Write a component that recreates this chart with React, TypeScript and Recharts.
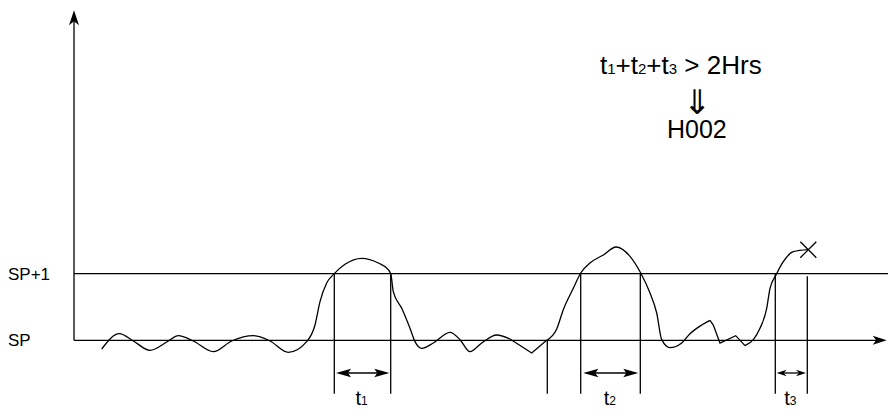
import React from 'react';
import { LineChart, Line, XAxis, YAxis, ReferenceLine, ReferenceDot } from 'recharts';

const FONT = '"Liberation Sans", Arial, Helvetica, sans-serif';

// ---- data (t = time units, v = deviation above set point, SP = 0, SP+1 = 1) ----
const X_DOMAIN: [number, number] = [0, 814];
const Y_DOMAIN: [number, number] = [-1, 5];
const Y_TICKS = [0, 1];
const Y_TICK_LABELS = ['SP', 'SP+1'];

const traceA = [
  { t: 27.7, v: -0.13 }, { t: 45.3, v: 0.1 }, { t: 59.3, v: -0.01 }, { t: 76, v: -0.15 },
  { t: 94.3, v: -0.01 }, { t: 104.3, v: 0.07 }, { t: 119.3, v: -0.01 }, { t: 139.3, v: -0.17 },
  { t: 157.7, v: -0.01 }, { t: 179.3, v: 0.07 }, { t: 196, v: -0.01 }, { t: 214.3, v: -0.18 },
  { t: 232.7, v: -0.02 }, { t: 241, v: 0.23 }, { t: 246, v: 0.58 }, { t: 252.7, v: 0.86 },
  { t: 260.3, v: 1.0 }, { t: 271, v: 1.14 }, { t: 287.7, v: 1.23 }, { t: 304.3, v: 1.16 },
  { t: 314.3, v: 1.06 }, { t: 317, v: 0.98 }, { t: 319.3, v: 0.73 }, { t: 327.7, v: 0.48 },
  { t: 336, v: 0.18 }, { t: 341, v: -0.02 }, { t: 347.7, v: -0.12 }, { t: 359.3, v: -0.04 },
  { t: 376, v: 0.12 }, { t: 386, v: 0.01 }, { t: 396, v: -0.17 }, { t: 407.7, v: -0.04 },
  { t: 422.7, v: 0.08 }, { t: 436, v: 0.02 },
];
const kinkA = [ { t: 436, v: 0.02 }, { t: 457.7, v: -0.19 }, { t: 472.7, v: 0.0 } ];
const traceB = [
  { t: 472.7, v: 0.0 }, { t: 482.7, v: 0.17 }, { t: 489.3, v: 0.46 }, { t: 499.3, v: 0.78 },
  { t: 506.7, v: 1.01 }, { t: 516, v: 1.16 }, { t: 529.3, v: 1.28 }, { t: 542, v: 1.4 },
  { t: 556, v: 1.26 }, { t: 566.7, v: 1.01 }, { t: 576, v: 0.71 }, { t: 582.7, v: 0.41 },
  { t: 587.7, v: 0.01 }, { t: 596, v: -0.11 }, { t: 607.7, v: -0.04 }, { t: 616, v: 0.1 },
  { t: 627.7, v: 0.23 }, { t: 636, v: 0.3 },
];
const kinkB = [
  { t: 636, v: 0.3 }, { t: 639.3, v: 0.23 }, { t: 646, v: -0.04 }, { t: 661.7, v: 0.07 },
  { t: 671, v: -0.08 },
];
const traceC = [
  { t: 671, v: -0.08 }, { t: 679.3, v: 0.01 }, { t: 686, v: 0.18 }, { t: 692.7, v: 0.48 },
  { t: 696, v: 0.78 }, { t: 702, v: 0.98 }, { t: 709.3, v: 1.18 }, { t: 719.3, v: 1.33 },
  { t: 734.3, v: 1.36 },
];
const alarmPoint = { t: 734.3, v: 1.36 };

// vertical time markers
const markerTimes = [260.3, 316.7, 473.3, 506.7, 566.3, 701.3, 733.3];
const markerTops = [1, 1, 0, 1, 1, 1, 0.96];
const MARKER_BOTTOM = -0.8;

// measured intervals above SP+1
const intervalSubs = ['1', '2', '3'];
const intervalFrom = [262, 509.3, 702.7];
const intervalTo = [315.3, 564.3, 732];
const INTERVAL_LEVEL = -0.49;
const INTERVAL_LABEL_LEVEL = -0.97;

const axisTop = 4.95;
const axisEnd = 812.7;
const spPlusEnd = 814;

const thresholdText = ' > 2Hrs';
const impliesText = '⇓';
const resultText = 'H002';

// ---- drawing helpers ----
const arrowPath = (cx: number, cy: number, dx: number, dy: number, len: number, half: number, notch: number) => {
  const bx = cx - dx * len, by = cy - dy * len;
  const px = -dy, py = dx;
  const nx = cx - dx * (len - notch), ny = cy - dy * (len - notch);
  return `M${cx},${cy} L${bx + px * half},${by + py * half} L${nx},${ny} L${bx - px * half},${by - py * half} Z`;
};

const makeHead = (dx: number, dy: number, len: number, half: number, notch: number) => (props: any) => {
  const { cx, cy } = props;
  if (cx == null || cy == null) return <g />;
  return <path d={arrowPath(cx, cy, dx, dy, len, half, notch)} fill="#000" stroke="none" />;
};

const SpTick = (props: any) => {
  const { y, payload } = props;
  const idx = Y_TICKS.indexOf(payload.value);
  return (
    <text x={8} y={y} dy={6} fontSize={17} fontFamily={FONT} fill="#000" textAnchor="start">
      {Y_TICK_LABELS[idx]}
    </text>
  );
};

const FormulaShape = (props: any) => {
  const { cx, cy } = props;
  return (
    <text x={cx} y={cy} fontFamily={FONT} fill="#000" textAnchor="start">
      {intervalSubs.map((s, i) => (
        <React.Fragment key={s}>
          {i > 0 ? <tspan fontSize={26}>+</tspan> : null}
          <tspan fontSize={26}>t</tspan>
          <tspan fontSize={15}>{s}</tspan>
        </React.Fragment>
      ))}
      <tspan fontSize={26}>{thresholdText}</tspan>
    </text>
  );
};

const ImpliesShape = (props: any) => (
  <text x={props.cx} y={props.cy} fontFamily={'"DejaVu Sans", sans-serif'} fontSize={34} fill="#000" textAnchor="middle">
    {impliesText}
  </text>
);

const ResultShape = (props: any) => (
  <text x={props.cx} y={props.cy} fontFamily={FONT} fontSize={25} fill="#000" textAnchor="start">
    {resultText}
  </text>
);

const makeSubLabel = (s: string) => (props: any) => (
  <text x={props.cx} y={props.cy} fontFamily={FONT} fill="#000" textAnchor="middle">
    <tspan fontSize={20}>t</tspan>
    <tspan fontSize={12}>{s}</tspan>
  </text>
);

const CrossShape = (props: any) => {
  const { cx, cy } = props;
  const h = 8;
  return (
    <g stroke="#000" strokeWidth={1.3}>
      <line x1={cx - h} y1={cy - h} x2={cx + h} y2={cy + h} />
      <line x1={cx - h} y1={cy + h} x2={cx + h} y2={cy - h} />
    </g>
  );
};

const LINE = { stroke: '#000', strokeWidth: 1.3 };

export default function App() {
  return (
    <div style={{ position: 'absolute', left: 0, top: 0, background: '#fff' }}>
      <LineChart width={890} height={415} margin={{ top: 7, right: 2, bottom: 8, left: 0 }}>
        <XAxis type="number" dataKey="t" domain={X_DOMAIN} hide allowDataOverflow />
        <YAxis
          type="number"
          domain={Y_DOMAIN}
          ticks={Y_TICKS}
          interval={0}
          width={74}
          axisLine={false}
          tickLine={false}
          tick={<SpTick />}
          allowDataOverflow
        />

        {/* axes */}
        <ReferenceLine segment={[{ x: 0, y: 0 }, { x: axisEnd - 5, y: 0 }]} {...LINE} ifOverflow="visible" />
        <ReferenceLine segment={[{ x: 0, y: 1 }, { x: spPlusEnd, y: 1 }]} {...LINE} ifOverflow="visible" />
        <ReferenceLine segment={[{ x: 0, y: 0 }, { x: 0, y: axisTop - 0.1 }]} {...LINE} ifOverflow="visible" />
        <ReferenceDot x={0} y={axisTop} r={1} shape={makeHead(0, -1, 15, 5, 4)} ifOverflow="visible" />
        <ReferenceDot x={axisEnd} y={0} r={1} shape={makeHead(1, 0, 14, 4.5, 3.5)} ifOverflow="visible" />

        {/* vertical markers */}
        {markerTimes.map((t, i) => (
          <ReferenceLine
            key={`m${i}`}
            segment={[{ x: t, y: markerTops[i] }, { x: t, y: MARKER_BOTTOM }]}
            {...LINE}
            ifOverflow="visible"
          />
        ))}

        {/* interval arrows */}
        {intervalSubs.map((s, i) => {
          const small = intervalTo[i] - intervalFrom[i] < 40;
          const len = small ? 10 : 15;
          const half = small ? 3.3 : 4.3;
          return (
            <React.Fragment key={`iv${s}`}>
              <ReferenceLine
                segment={[{ x: intervalFrom[i] + 3, y: INTERVAL_LEVEL }, { x: intervalTo[i] - 3, y: INTERVAL_LEVEL }]}
                {...LINE}
                ifOverflow="visible"
              />
              <ReferenceDot x={intervalFrom[i]} y={INTERVAL_LEVEL} r={1} shape={makeHead(-1, 0, len, half, 3)} ifOverflow="visible" />
              <ReferenceDot x={intervalTo[i]} y={INTERVAL_LEVEL} r={1} shape={makeHead(1, 0, len, half, 3)} ifOverflow="visible" />
              <ReferenceDot
                x={(intervalFrom[i] + intervalTo[i]) / 2 - 1}
                y={INTERVAL_LABEL_LEVEL}
                r={1}
                shape={makeSubLabel(s)}
                ifOverflow="visible"
              />
            </React.Fragment>
          );
        })}

        {/* process trace */}
        <Line data={traceA} dataKey="v" type="monotoneX" {...LINE} fill="none" dot={false} activeDot={false} isAnimationActive={false} />
        <Line data={kinkA} dataKey="v" type="linear" {...LINE} fill="none" dot={false} activeDot={false} isAnimationActive={false} />
        <Line data={traceB} dataKey="v" type="monotoneX" {...LINE} fill="none" dot={false} activeDot={false} isAnimationActive={false} />
        <Line data={kinkB} dataKey="v" type="linear" {...LINE} fill="none" dot={false} activeDot={false} isAnimationActive={false} />
        <Line data={traceC} dataKey="v" type="monotoneX" {...LINE} fill="none" dot={false} activeDot={false} isAnimationActive={false} />
        <ReferenceDot x={alarmPoint.t} y={alarmPoint.v} r={1} shape={CrossShape} ifOverflow="visible" />

        {/* annotations */}
        <ReferenceDot x={526} y={3.99} r={1} shape={FormulaShape} ifOverflow="visible" />
        <ReferenceDot x={623} y={3.39} r={1} shape={ImpliesShape} ifOverflow="visible" />
        <ReferenceDot x={593} y={3.03} r={1} shape={ResultShape} ifOverflow="visible" />
      </LineChart>
    </div>
  );
}
